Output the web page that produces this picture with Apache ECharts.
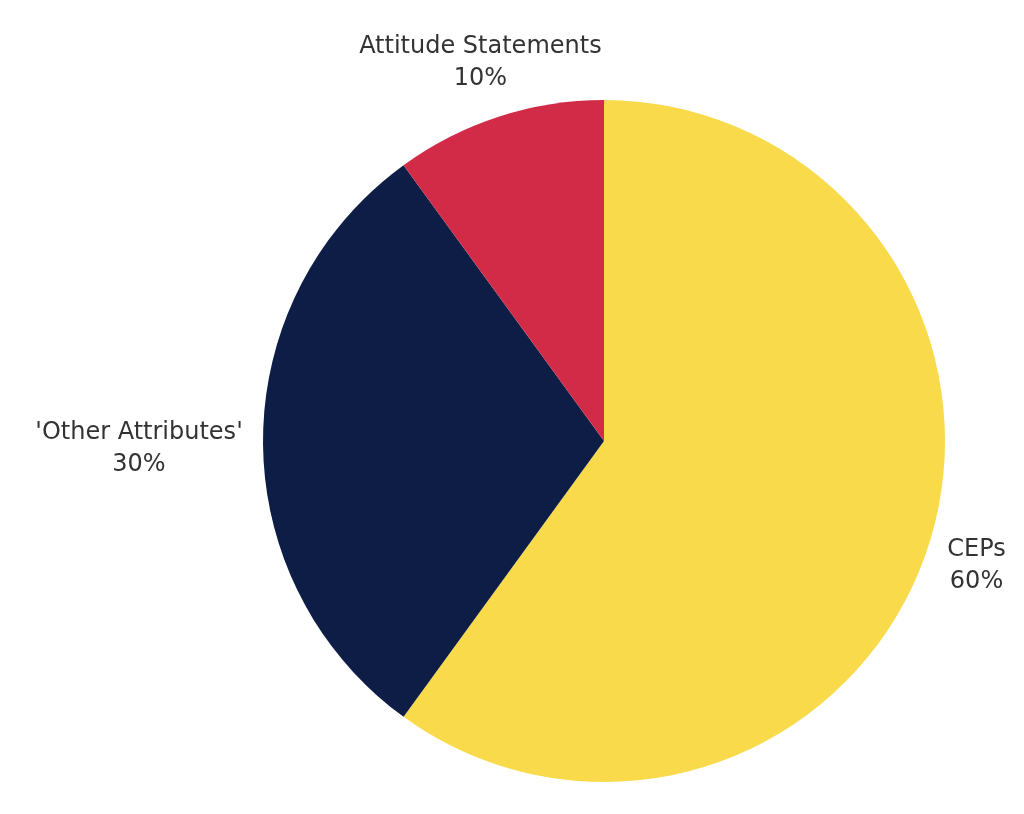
<!DOCTYPE html>
<html>
<head>
<meta charset="utf-8">
<script src="https://cdn.jsdelivr.net/npm/echarts@6/dist/echarts.min.js"></script>
<style>
  html, body { margin: 0; padding: 0; background: #ffffff; }
  #chart { width: 1024px; height: 814px; }
</style>
</head>
<body>
<div id="chart"></div>
<script>
// slice data, clockwise from 12 o'clock
var names = ['CEPs', "'Other Attributes'", 'Attitude Statements'];
var values = [60, 30, 10];
var colors = ['#F8DA4B', '#0E1D46', '#D12B48'];

// label placement per slice (rich token, line lengths)
var labelTok = ['c', 'o', 'a'];
var labelLen = [57, 15, 59];
var labelLen2 = [-41, -7, -140];

var textStyle = {
    fontFamily: '"DejaVu Sans", sans-serif',
    fontSize: 24,
    lineHeight: 32,
    color: '#333333',
    align: 'center'
};
function tok(w) {
    return Object.assign({ width: w }, textStyle);
}

var chart = echarts.init(document.getElementById('chart'));

var pieData = [];
for (var i = 0; i < names.length; i++) {
    pieData.push({
        name: names[i],
        value: values[i],
        itemStyle: { color: colors[i] },
        labelLine: { show: false, length: labelLen[i], length2: labelLen2[i] },
        label: { padding: [i === 1 ? 16 : 4, 0, 0, 0] }
    });
}

var option = {
    backgroundColor: '#ffffff',
    animation: false,
    series: [{
        type: 'pie',
        center: [604, 441],
        radius: 341,
        startAngle: 90,
        clockwise: true,
        avoidLabelOverlap: false,
        itemStyle: { borderWidth: 0 },
        label: {
            show: true,
            position: 'outside',
            formatter: function (p) {
                var t = labelTok[p.dataIndex];
                return '{' + t + '|' + p.name + '}\n{' + t + '|' + p.value + '%}';
            },
            rich: {
                c: tok(60),
                o: tok(222),
                a: tok(270)
            }
        },
        labelLine: { show: false },
        emphasis: { disabled: true },
        data: pieData
    }]
};

chart.setOption(option);
</script>
</body>
</html>
